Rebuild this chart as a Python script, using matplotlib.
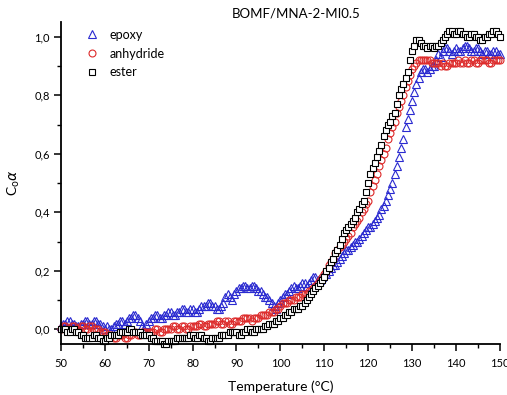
import matplotlib
matplotlib.use("Agg")
import matplotlib.pyplot as plt
from matplotlib.ticker import MultipleLocator, FuncFormatter

plt.rcParams['font.family'] = ['Lato', 'DejaVu Sans']

# Temperature grid, 0.5 °C steps from 50 to 150 °C
temperature = [50 + 0.5 * i for i in range(201)]

epoxy = [
    0.01, 0.02, 0.02, 0.03, 0.03, 0.02, 0.02, 0.01, 0.01, 0.02,
    0.02, 0.03, 0.03, 0.02, 0.02, 0.03, 0.03, 0.02, 0.02, 0.01,
    0.00, 0.01, 0.00, 0.00, 0.01, 0.02, 0.02, 0.03, 0.03, 0.02,
    0.03, 0.04, 0.04, 0.05, 0.05, 0.04, 0.03, 0.01, 0.00, 0.02,
    0.03, 0.04, 0.04, 0.05, 0.05, 0.04, 0.04, 0.05, 0.05, 0.06,
    0.06, 0.05, 0.05, 0.06, 0.06, 0.07, 0.07, 0.06, 0.06, 0.07,
    0.07, 0.06, 0.06, 0.07, 0.08, 0.08, 0.08, 0.09, 0.09, 0.08,
    0.08, 0.07, 0.07, 0.08, 0.09, 0.11, 0.12, 0.11, 0.10, 0.12,
    0.13, 0.14, 0.14, 0.15, 0.15, 0.14, 0.14, 0.15, 0.15, 0.14,
    0.13, 0.13, 0.12, 0.11, 0.11, 0.10, 0.09, 0.08, 0.07, 0.09,
    0.10, 0.11, 0.12, 0.12, 0.13, 0.14, 0.15, 0.14, 0.14, 0.15,
    0.16, 0.16, 0.15, 0.16, 0.17, 0.18, 0.18, 0.17, 0.17, 0.18,
    0.19, 0.19, 0.20, 0.21, 0.22, 0.22, 0.23, 0.24, 0.25, 0.26,
    0.27, 0.27, 0.28, 0.29, 0.30, 0.30, 0.31, 0.32, 0.33, 0.34,
    0.35, 0.35, 0.36, 0.37, 0.38, 0.39, 0.41, 0.42, 0.44, 0.46,
    0.48, 0.50, 0.53, 0.56, 0.59, 0.62, 0.65, 0.69, 0.72, 0.75,
    0.78, 0.81, 0.84, 0.86, 0.88, 0.89, 0.89, 0.88, 0.89, 0.90,
    0.90, 0.92, 0.94, 0.93, 0.95, 0.96, 0.96, 0.95, 0.94, 0.95,
    0.96, 0.95, 0.95, 0.96, 0.97, 0.97, 0.96, 0.95, 0.95, 0.96,
    0.96, 0.95, 0.94, 0.95, 0.95, 0.94, 0.94, 0.95, 0.95, 0.94,
    0.94,
]

anhydride = [
    0.00, 0.01, 0.01, 0.00, 0.00, 0.01, 0.01, 0.00, 0.00, 0.01,
    0.01, 0.00, 0.00, 0.01, 0.01, 0.00, 0.00, 0.00, -0.01, -0.01,
    -0.01, -0.02, -0.02, -0.02, -0.03, -0.03, -0.02, -0.02, -0.02, -0.03,
    -0.03, -0.02, -0.02, -0.01, -0.01, -0.02, -0.02, -0.01, -0.01, -0.01,
    -0.01, -0.01, -0.01, 0.00, 0.00, -0.01, -0.01, 0.00, 0.00, 0.00,
    0.00, 0.01, 0.01, 0.00, 0.00, 0.01, 0.01, 0.00, 0.00, 0.01,
    0.01, 0.01, 0.01, 0.02, 0.02, 0.01, 0.01, 0.02, 0.02, 0.02,
    0.02, 0.03, 0.03, 0.02, 0.02, 0.03, 0.03, 0.02, 0.02, 0.03,
    0.03, 0.03, 0.03, 0.04, 0.04, 0.04, 0.04, 0.03, 0.04, 0.04,
    0.04, 0.05, 0.05, 0.05, 0.05, 0.06, 0.06, 0.06, 0.07, 0.07,
    0.08, 0.09, 0.09, 0.09, 0.10, 0.10, 0.10, 0.11, 0.11, 0.11,
    0.12, 0.12, 0.12, 0.13, 0.13, 0.14, 0.15, 0.16, 0.17, 0.18,
    0.19, 0.20, 0.22, 0.23, 0.24, 0.26, 0.27, 0.28, 0.29, 0.30,
    0.31, 0.32, 0.33, 0.35, 0.36, 0.37, 0.38, 0.40, 0.41, 0.43,
    0.44, 0.47, 0.49, 0.51, 0.53, 0.56, 0.58, 0.60, 0.62, 0.65,
    0.67, 0.69, 0.71, 0.74, 0.76, 0.78, 0.80, 0.83, 0.85, 0.87,
    0.89, 0.90, 0.91, 0.92, 0.92, 0.92, 0.92, 0.92, 0.92, 0.91,
    0.91, 0.91, 0.91, 0.90, 0.91, 0.90, 0.90, 0.91, 0.91, 0.91,
    0.91, 0.92, 0.91, 0.91, 0.92, 0.91, 0.91, 0.92, 0.92, 0.91,
    0.91, 0.92, 0.92, 0.92, 0.92, 0.91, 0.91, 0.92, 0.92, 0.92,
    0.92,
]

ester = [
    0.00, 0.00, 0.00, -0.01, -0.01, 0.00, 0.00, -0.01, -0.01, -0.02,
    -0.02, -0.03, -0.03, -0.03, -0.03, -0.02, -0.02, -0.03, -0.03, -0.04,
    -0.04, -0.03, -0.03, -0.02, -0.02, -0.02, -0.02, -0.01, -0.01, -0.01,
    -0.01, 0.00, 0.00, -0.01, -0.01, -0.01, -0.01, -0.02, -0.02, -0.02,
    -0.02, -0.03, -0.03, -0.04, -0.04, -0.04, -0.04, -0.05, -0.05, -0.04,
    -0.04, -0.04, -0.04, -0.03, -0.03, -0.03, -0.03, -0.03, -0.03, -0.02,
    -0.02, -0.03, -0.03, -0.02, -0.02, -0.03, -0.03, -0.04, -0.04, -0.03,
    -0.03, -0.03, -0.03, -0.02, -0.02, -0.02, -0.02, -0.01, -0.01, -0.01,
    -0.01, -0.02, -0.02, -0.01, -0.01, 0.00, 0.00, -0.01, -0.01, 0.00,
    0.00, 0.00, 0.00, 0.01, 0.01, 0.02, 0.02, 0.02, 0.03, 0.03,
    0.04, 0.04, 0.05, 0.05, 0.06, 0.06, 0.07, 0.07, 0.07, 0.08,
    0.08, 0.09, 0.10, 0.11, 0.12, 0.13, 0.14, 0.15, 0.16, 0.17,
    0.18, 0.20, 0.21, 0.23, 0.24, 0.26, 0.27, 0.29, 0.31, 0.33,
    0.34, 0.35, 0.36, 0.37, 0.38, 0.40, 0.41, 0.43, 0.44, 0.47,
    0.50, 0.53, 0.55, 0.57, 0.59, 0.61, 0.63, 0.66, 0.68, 0.70,
    0.71, 0.73, 0.74, 0.77, 0.80, 0.82, 0.84, 0.86, 0.88, 0.92,
    0.95, 0.97, 0.99, 0.99, 0.98, 0.97, 0.97, 0.96, 0.97, 0.97,
    0.96, 0.97, 0.97, 0.98, 0.99, 1.00, 1.01, 1.02, 1.02, 1.01,
    1.01, 1.02, 1.02, 1.01, 1.01, 1.00, 1.00, 1.01, 1.01, 1.00,
    1.00, 0.99, 0.99, 1.00, 1.00, 1.01, 1.01, 1.02, 1.02, 1.01,
    1.00,
]

fig = plt.figure(figsize=(5.07, 3.95), dpi=100)
ax = fig.add_axes([0.120, 0.129, 0.866, 0.815])

ms = 5.5
ax.plot(temperature, epoxy, linestyle='none', marker='^', markersize=ms,
        markerfacecolor='none', markeredgecolor='#2a2ad0', markeredgewidth=0.8,
        label='epoxy', clip_on=False)
ax.plot(temperature, anhydride, linestyle='none', marker='o', markersize=ms - 0.5,
        markerfacecolor='none', markeredgecolor='#dd2a2a', markeredgewidth=0.8,
        label='anhydride', clip_on=False)
ax.plot(temperature, ester, linestyle='none', marker='s', markersize=ms - 0.7,
        markerfacecolor='white', markeredgecolor='black', markeredgewidth=0.8,
        label='ester', clip_on=False)

ax.set_xlim(50, 150)
ax.set_ylim(-0.05, 1.05)
ax.xaxis.set_major_locator(MultipleLocator(10))
ax.xaxis.set_minor_locator(MultipleLocator(5))
ax.yaxis.set_major_locator(MultipleLocator(0.2))
ax.yaxis.set_minor_locator(MultipleLocator(0.1))
ax.yaxis.set_major_formatter(
    FuncFormatter(lambda v, p: f"{abs(v) if abs(v) < 1e-9 else v:.1f}".replace('.', ',')))

for side in ('top', 'right'):
    ax.spines[side].set_visible(False)
for side in ('left', 'bottom'):
    ax.spines[side].set_linewidth(1.3)
ax.tick_params(which='major', direction='out', length=5, width=1.1, labelsize=8, colors='black')
ax.tick_params(which='minor', direction='out', length=3, width=1.0)
ax.tick_params(axis='x', pad=5)
ax.tick_params(axis='y', pad=3)

ax.set_xlabel('Temperature (°C)', fontsize=10, labelpad=8)
ax.set_ylabel(r'C$_\mathrm{o}$$\alpha$', fontsize=10, labelpad=9)

fig.text(0.584, 0.965, 'BOMF/MNA-2-MI0.5', ha='center', va='center', fontsize=9.5)

ax.legend(loc='upper left', bbox_to_anchor=(0.045, 0.995), frameon=False,
          fontsize=9, handletextpad=0.9, labelspacing=0.55, handlelength=1.0,
          borderaxespad=0)

fig.savefig('out.png', dpi=100)
